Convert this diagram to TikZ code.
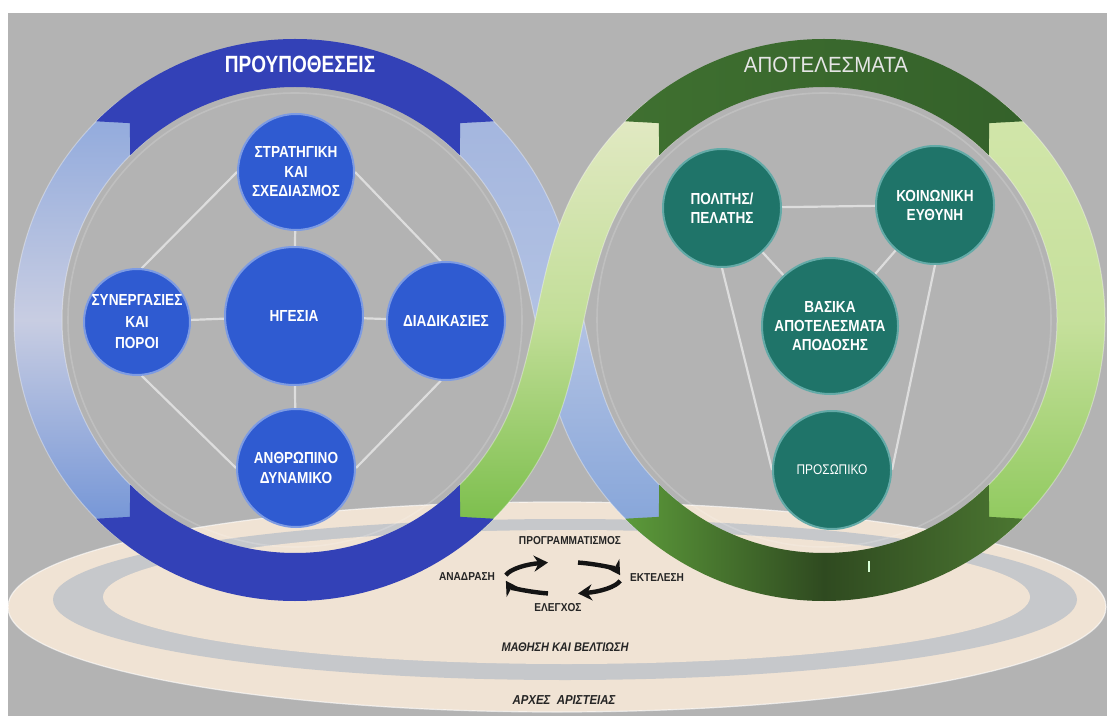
\documentclass[tikz,border=0pt]{standalone}
\usepackage{fontspec}
\setmainfont{Liberation Sans}
\newfontfamily\narrowsans[FakeStretch=0.85]{Liberation Sans}
\newfontfamily\titlesansA[FakeStretch=0.81]{Liberation Sans}
\newfontfamily\titlesansB[FakeStretch=0.93]{Liberation Sans}
\newfontfamily\labelsans[FakeStretch=0.88]{Liberation Sans}
\usetikzlibrary{calc,arrows.meta}

\pgfdeclarelayer{scenery}
\pgfdeclarelayer{links}
\pgfsetlayers{scenery,links,main}

% palette
\definecolor{bgGrey}{HTML}{B3B3B3}
\definecolor{beige}{HTML}{F0E3D4}
\definecolor{stripe}{HTML}{C6C8CB}
\definecolor{bandBlue}{HTML}{3341B7}
\definecolor{nodeBlue}{HTML}{2F5BD1}
\definecolor{nodeBlueEdge}{HTML}{7D9BE3}
\definecolor{nodeTeal}{HTML}{1F7469}
\definecolor{nodeTealEdge}{HTML}{63AAA7}
\definecolor{linkLine}{HTML}{DDDDDD}
\definecolor{labelInk}{HTML}{252525}
\definecolor{lbTop}{HTML}{8EA8DC}
\definecolor{lbMid}{HTML}{C8CDE2}
\definecolor{lbBot}{HTML}{6F92D6}
\definecolor{sbTop}{HTML}{A3B5DE}
\definecolor{sbMid}{HTML}{B2C2E3}
\definecolor{sbBot}{HTML}{84A4D9}
\definecolor{sgTop}{HTML}{E4EAC6}
\definecolor{sgMid}{HTML}{C2DE98}
\definecolor{sgBot}{HTML}{76BC46}
\definecolor{rgTop}{HTML}{D2E6AA}
\definecolor{rgMid}{HTML}{C6E09C}
\definecolor{rgBot}{HTML}{8CC85A}
\definecolor{gbLeft}{HTML}{5C9A3A}
\definecolor{gbMid}{HTML}{2F4A20}
\definecolor{gbRight}{HTML}{4B7631}
\definecolor{gtLeft}{HTML}{3F7030}
\definecolor{gtRight}{HTML}{34612A}

% dark ring segment between two angles, with notched ends
\newcommand\ringband[3]{($(#1)+(#2:281)$) arc[start angle=#2,end angle=#3,radius=281]
  -- ($(#1)+({#3-5}:257)$) -- ($(#1)+(#3:233)$)
  arc[start angle=#3,end angle=#2,radius=233]
  -- ($(#1)+({#2+5}:257)$) -- cycle}

\tikzset{
  bluenode/.style={circle, fill=nodeBlue, draw=nodeBlueEdge, line width=1pt,
    text=white, align=center, inner sep=0pt,
    font=\narrowsans\bfseries\fontsize{8}{9.75}\selectfont},
  tealnode/.style={circle, fill=nodeTeal, draw=nodeTealEdge, line width=1pt,
    text=white, align=center, inner sep=0pt,
    font=\narrowsans\bfseries\fontsize{8}{9.5}\selectfont},
  link/.style={draw=linkLine, line width=1.1pt},
  cyclearrow/.style={draw=black!92, line width=2.2pt, -{Stealth[length=7pt,width=8pt]}},
  cyclelabel/.style={text=labelInk, inner sep=0pt,
    font=\labelsans\bfseries\fontsize{5.75}{6}\selectfont},
  baselabel/.style={text=labelInk, inner sep=0pt,
    font=\labelsans\bfseries\itshape\fontsize{6.25}{7}\selectfont},
  lightarc/.style={draw=white, draw opacity=0.35, line width=0.5pt},
}

\begin{document}
\begin{tikzpicture}[x=0.5pt,y=-0.5pt]
\useasboundingbox (0,0) rectangle (1107,716);
\coordinate (L) at (295,320);
\coordinate (R) at (824,320);
\coordinate (cyc) at (563,578);

\begin{pgfonlayer}{scenery}
  % backdrop
  \fill[white] (0,0) rectangle (1107,716);
  \fill[bgGrey] (8,13) rectangle (1107,716);

  % platform of concentric ellipses
  \fill[beige] (557,607) ellipse [x radius=549, y radius=105];
  \draw[white, opacity=0.6, line width=0.6pt] (557,607) ellipse [x radius=549, y radius=105];
  \fill[stripe] (565,599.5) ellipse [x radius=512, y radius=80.5];
  \fill[beige] (566.5,597) ellipse [x radius=463.5, y radius=67];

  % faint inner rims of both rings
  \draw[white, opacity=0.16, line width=0.8pt] (L) circle [radius=227];
  \draw[white, opacity=0.16, line width=0.8pt] (R) circle [radius=227];

  % left side of the left ring
  \shadedraw[lightarc, top color=lbTop, bottom color=lbBot, middle color=lbMid]
    ($(L)+(129:281)$) arc[start angle=129,end angle=231,radius=281]
    -- ($(L)+(231:233)$) arc[start angle=231,end angle=129,radius=233] -- cycle;

  % right side of the right ring
  \shadedraw[lightarc, top color=rgTop, bottom color=rgBot, middle color=rgMid]
    ($(R)+(-51:281)$) arc[start angle=-51,end angle=51,radius=281]
    -- ($(R)+(51:233)$) arc[start angle=51,end angle=-51,radius=233] -- cycle;

  % blue crossing arc: left ring (upper) to right ring (lower)
  \shadedraw[lightarc, top color=sbTop, bottom color=sbBot, middle color=sbMid]
    ($(L)+(309:281)$) arc[start angle=309,end angle=340,radius=281]
    .. controls (579.6,280.3) and (584.6,343.3) .. ($(R)+(160:233)$)
    arc[start angle=160,end angle=129,radius=233]
    -- ($(R)+(129:281)$)
    arc[start angle=129,end angle=160,radius=281]
    .. controls (539.4,359.7) and (534.4,296.7) .. ($(L)+(340:233)$)
    arc[start angle=340,end angle=309,radius=233] -- cycle;

  % green crossing arc: right ring (upper) to left ring (lower)
  \shadedraw[lightarc, top color=sgTop, bottom color=sgBot, middle color=sgMid]
    ($(R)+(231:281)$) arc[start angle=231,end angle=200,radius=281]
    .. controls (539.4,280.3) and (534.4,343.3) .. ($(L)+(20:233)$)
    arc[start angle=20,end angle=51,radius=233]
    -- ($(L)+(51:281)$)
    arc[start angle=51,end angle=20,radius=281]
    .. controls (579.6,359.7) and (584.6,296.7) .. ($(R)+(200:233)$)
    arc[start angle=200,end angle=231,radius=233] -- cycle;

  % dark segments of the rings
  \fill[bandBlue] \ringband{L}{225}{315};
  \fill[bandBlue] \ringband{L}{45}{135};
  \shade[left color=gtLeft, right color=gtRight] \ringband{R}{225}{315};
  \shade[left color=gbLeft, right color=gbRight, middle color=gbMid] \ringband{R}{45}{135};
  \draw[white!85!green, line width=0.7pt] (869,561) -- (869,572);

  % ring titles
  \node[text=white, inner sep=0pt, font=\titlesansA\bfseries\fontsize{11.75}{12}\selectfont]
    (prereq) at (300,64) {ΠΡΟΥΠΟΘΕΣΕΙΣ};
  \node[text=white!90!black, inner sep=0pt, font=\titlesansB\fontsize{11}{12}\selectfont]
    (results) at (826,65) {ΑΠΟΤΕΛΕΣΜΑΤΑ};

  % management cycle
  \node[cyclelabel] (plan) at (570,541) {ΠΡΟΓΡΑΜΜΑΤΙΣΜΟΣ};
  \node[cyclelabel] (feedback) at (467,577) {ΑΝΑΔΡΑΣΗ};
  \node[cyclelabel] (execute) at (657,578) {ΕΚΤΕΛΕΣΗ};
  \node[cyclelabel] (control) at (558,608) {ΕΛΕΓΧΟΣ};
  \draw[cyclearrow] ($(cyc)+(190:58 and 16)$) arc[start angle=190,end angle=255,x radius=58,y radius=16];
  \draw[cyclearrow] ($(cyc)+(285:58 and 16)$) arc[start angle=285,end angle=350,x radius=58,y radius=16];
  \draw[cyclearrow] ($(cyc)+(10:58 and 16)$) arc[start angle=10,end angle=75,x radius=58,y radius=16];
  \draw[cyclearrow] ($(cyc)+(105:58 and 16)$) arc[start angle=105,end angle=170,x radius=58,y radius=16];

  % platform labels
  \node[baselabel] (learning) at (565,647) {ΜΑΘΗΣΗ ΚΑΙ ΒΕΛΤΙΩΣΗ};
  \node[baselabel, font=\labelsans\bfseries\itshape\fontsize{6.5}{7}\selectfont]
    (excellence) at (564,700) {ΑΡΧΕΣ\ \ ΑΡΙΣΤΕΙΑΣ};
\end{pgfonlayer}

% enablers
\node[bluenode, minimum size=58pt] (strategy) at (296,172) {ΣΤΡΑΤΗΓΙΚΗ\\ΚΑΙ\\ΣΧΕΔΙΑΣΜΟΣ};
\node[bluenode, minimum size=69pt] (leadership) at (294,316) {ΗΓΕΣΙΑ};
\node[bluenode, minimum size=53pt] (partners) at (137,322) {ΣΥΝΕΡΓΑΣΙΕΣ\\[1pt]ΚΑΙ\\[1pt]ΠΟΡΟΙ};
\node[bluenode, minimum size=59pt] (processes) at (446,321) {ΔΙΑΔΙΚΑΣΙΕΣ};
\node[bluenode, minimum size=59pt] (people) at (296,468) {ΑΝΘΡΩΠΙΝΟ\\ΔΥΝΑΜΙΚΟ};

% results
\node[tealnode, minimum size=59pt] (citizen) at (722,208) {ΠΟΛΙΤΗΣ/\\ΠΕΛΑΤΗΣ};
\node[tealnode, minimum size=59pt] (society) at (935,205) {ΚΟΙΝΩΝΙΚΗ\\ΕΥΘΥΝΗ};
\node[tealnode, minimum size=68pt] (keyres) at (830,326) {ΒΑΣΙΚΑ\\ΑΠΟΤΕΛΕΣΜΑΤΑ\\ΑΠΟΔΟΣΗΣ};
\node[tealnode, minimum size=59pt, font=\narrowsans\fontsize{7}{8}\selectfont] (staff) at (832,470) {ΠΡΟΣΩΠΙΚΟ};

\begin{pgfonlayer}{links}
  \draw[link] (strategy) -- (leadership);
  \draw[link] (leadership) -- (people);
  \draw[link] (partners) -- (leadership);
  \draw[link] (leadership) -- (processes);
  \draw[link] (strategy.180) -- (partners.85);
  \draw[link] (strategy.0) -- (processes.95);
  \draw[link] (partners.275) -- (people.180);
  \draw[link] (processes.265) -- (people.0);

  \draw[link] (citizen) -- (society);
  \draw[link] (citizen) -- (keyres);
  \draw[link] (society) -- (keyres);
  \draw[link] (citizen.south) -- (staff.west);
  \draw[link] (society.south) -- (staff.east);
\end{pgfonlayer}
\end{tikzpicture}
\end{document}
